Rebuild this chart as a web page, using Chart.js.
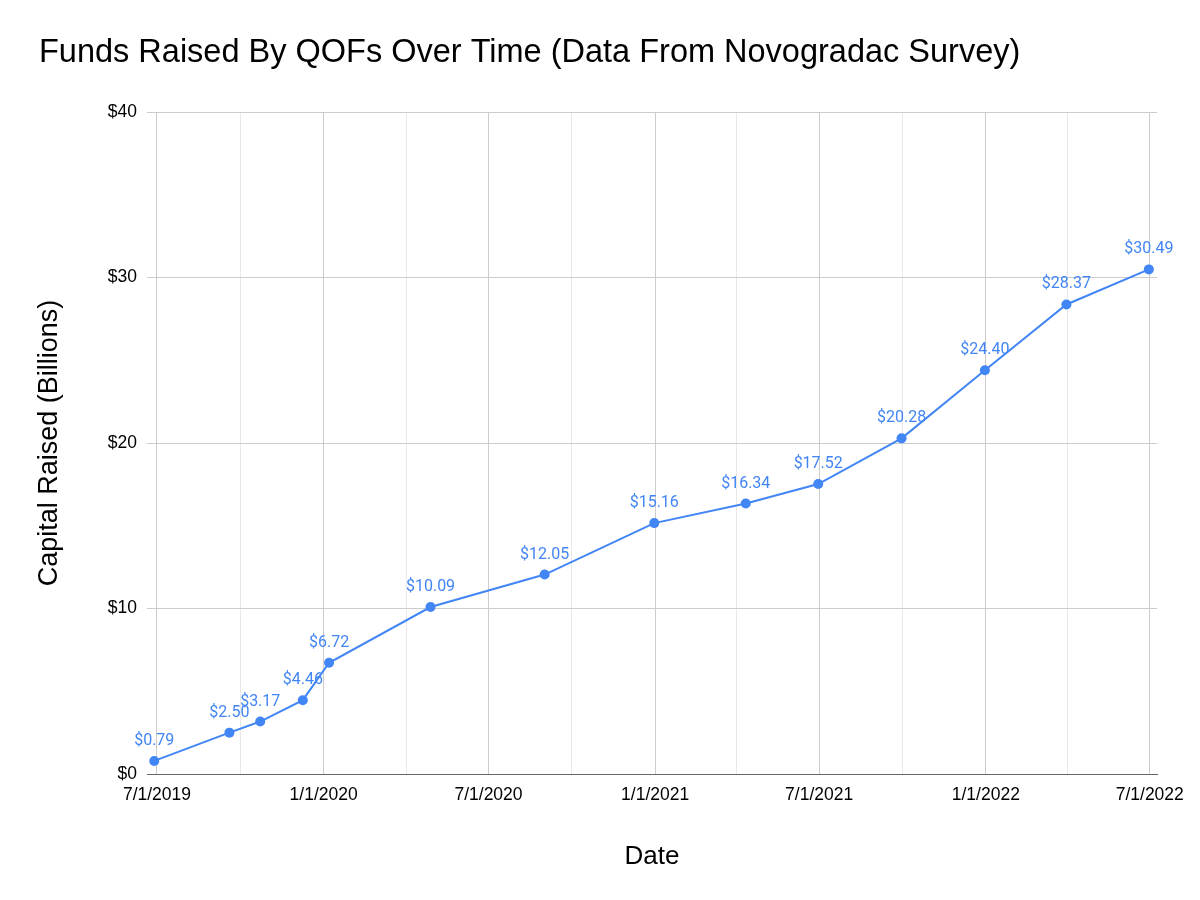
<!DOCTYPE html>
<html>
<head>
<meta charset="utf-8">
<script src="https://cdn.jsdelivr.net/npm/chart.js@4.4.0/dist/chart.umd.min.js"></script>
<style>
  html, body { margin: 0; padding: 0; background: #fff; }
  #wrap { width: 1200px; height: 900px; }
</style>
</head>
<body>
<div id="wrap"><canvas id="qofChart" width="1200" height="900"></canvas></div>
<script>
// survey dates and capital raised (billions)
const surveyDates = ['2019-06-28', '2019-09-19', '2019-10-23', '2019-12-09', '2020-01-07',
  '2020-04-28', '2020-09-01', '2020-12-31', '2021-04-11', '2021-06-30',
  '2021-09-30', '2021-12-31', '2022-03-31', '2022-06-30'];
const capitalRaised = [0.79, 2.50, 3.17, 4.46, 6.72, 10.09, 12.05, 15.16, 16.34, 17.52,
  20.28, 24.40, 28.37, 30.49];

// vertical gridlines (quarters); labelled ones are the half-years
const gridDates = ['2019-07-01', '2019-10-01', '2020-01-01', '2020-04-01', '2020-07-01',
  '2020-10-01', '2021-01-01', '2021-04-01', '2021-07-01', '2021-10-01', '2022-01-01',
  '2022-04-01', '2022-07-01'];
const gridLabels = ['7/1/2019', '', '1/1/2020', '', '7/1/2020', '', '1/1/2021', '',
  '7/1/2021', '', '1/1/2022', '', '7/1/2022'];
const yTicks = [0, 10, 20, 30, 40];

const BLUE = '#4285F4';
const base = Date.UTC(2019, 6, 1);
const toDay = s => {
  const [y, m, d] = s.split('-').map(Number);
  return (Date.UTC(y, m - 1, d) - base) / 86400000;
};

const points = surveyDates.map((d, i) => ({ x: toDay(d), y: capitalRaised[i] }));
const gridDays = gridDates.map(toDay);

// value labels above each point
const pointLabels = {
  id: 'pointLabels',
  afterDatasetsDraw(chart) {
    const ctx = chart.ctx;
    const meta = chart.getDatasetMeta(0);
    ctx.save();
    ctx.font = '16px Roboto';
    ctx.fillStyle = BLUE;
    ctx.textAlign = 'center';
    ctx.textBaseline = 'alphabetic';
    meta.data.forEach((el, i) => {
      ctx.fillText('$' + capitalRaised[i].toFixed(2), el.x, el.y - 16);
    });
    ctx.restore();
  }
};

Chart.defaults.font.family = '"Liberation Sans", Arial, sans-serif';
Chart.defaults.color = '#222';

new Chart(document.getElementById('qofChart'), {
  type: 'line',
  data: {
    datasets: [{
      data: points,
      borderColor: BLUE,
      backgroundColor: BLUE,
      borderWidth: 2,
      pointRadius: 5,
      pointHoverRadius: 5,
      pointBorderWidth: 0,
      tension: 0,
      fill: false
    }]
  },
  options: {
    responsive: false,
    animation: false,
    layout: { padding: { left: 39, right: 43, top: 0, bottom: 24 } },
    plugins: {
      legend: { display: false },
      tooltip: { enabled: false },
      title: {
        display: true,
        text: 'Funds Raised By QOFs Over Time (Data From Novogradac Survey)',
        align: 'start',
        color: '#000',
        font: { size: 32.5, weight: 'normal', lineHeight: 1.2 },
        padding: { top: 34, bottom: 39 }
      }
    },
    scales: {
      x: {
        type: 'linear',
        min: toDay('2019-06-20'),
        max: toDay('2022-07-09'),
        afterBuildTicks: scale => { scale.ticks = gridDays.map(v => ({ value: v })); },
        afterFit: scale => { scale.height = 102; },
        ticks: {
          autoSkip: false,
          maxRotation: 0,
          padding: 11,
          color: '#000',
          font: { size: 17.5 },
          callback: (v, i) => gridLabels[i]
        },
        grid: {
          drawTicks: false,
          color: ctx => (gridLabels[ctx.index] ? '#cccccc' : '#e8e8e8')
        },
        border: { color: '#666', width: 1 },
        title: {
          display: true,
          text: 'Date',
          color: '#000',
          font: { size: 26 },
          padding: { top: 4, bottom: 4 }
        }
      },
      y: {
        min: 0,
        max: 40,
        afterBuildTicks: scale => { scale.ticks = yTicks.map(v => ({ value: v })); },
        afterFit: scale => { scale.width = 108; },
        ticks: {
          padding: 10,
          color: '#000',
          font: { size: 17.5 },
          callback: v => '$' + v
        },
        grid: { drawTicks: false, color: '#cccccc' },
        border: { display: false },
        title: {
          display: true,
          text: 'Capital Raised (Billions)',
          color: '#000',
          font: { size: 27, lineHeight: 0.815 },
          padding: 0
        }
      }
    }
  },
  plugins: [pointLabels]
});
</script>
</body>
</html>
